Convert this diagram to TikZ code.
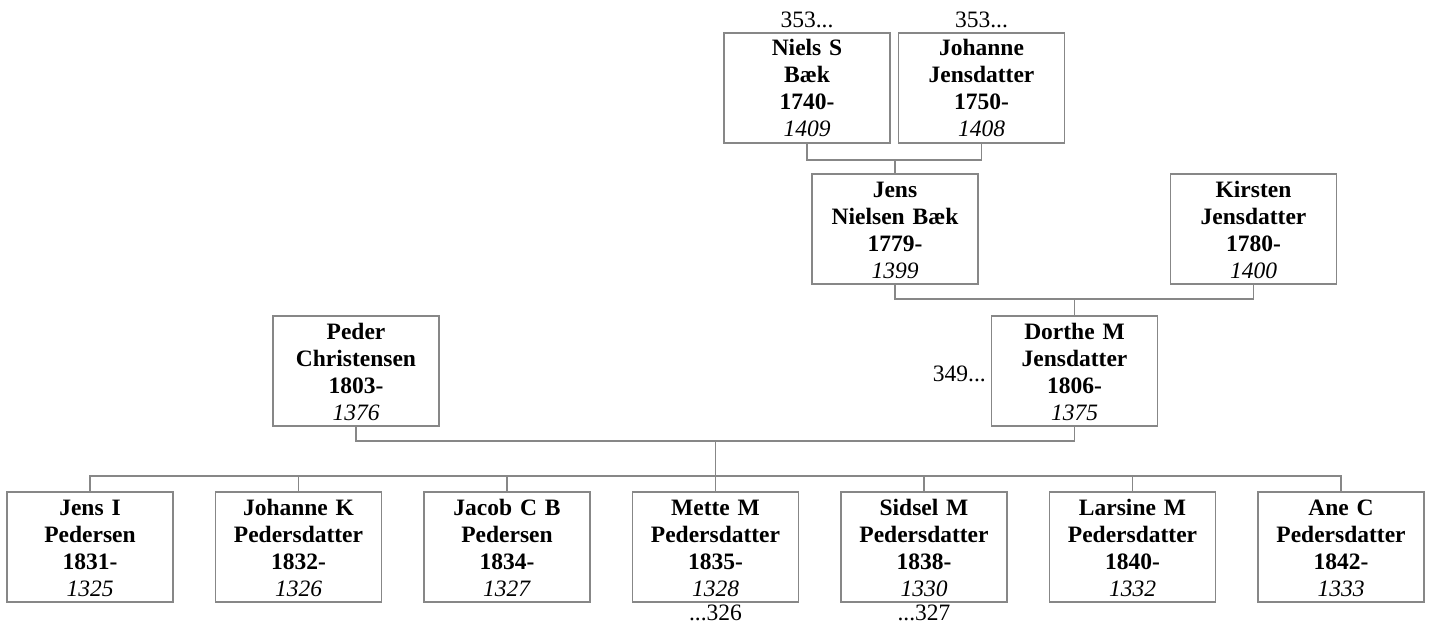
\documentclass[tikz,border=0pt]{standalone}
\usepackage{fontspec}
\setmainfont{Liberation Serif}
\usetikzlibrary{positioning, calc}
\definecolor{linegray}{RGB}{135,135,135}
\newcommand{\pers}[4]{\rule{0pt}{23pt}\textbf{#1}\\\textbf{#2}\\\textbf{#3}\\\textit{#4}\rule[-6pt]{0pt}{6pt}}

\begin{document}
\begin{tikzpicture}[x=1pt, y=-1pt,
    person/.style={draw=linegray, line width=1.1pt, rectangle, inner sep=0pt,
        text width=166pt, minimum height=110pt, align=center,
        font=\fontsize{23.5}{27}\selectfont},
    link/.style={draw=linegray, line width=1.1pt},
    ref/.style={font=\fontsize{23.5}{26}\selectfont, inner sep=0pt}]
    \useasboundingbox (0,0) rectangle (1430,626);

    % Grandparents
    \node[person] (niels) at (807,88) {\pers{Niels S}{Bæk}{1740-}{1409}};
    \node[person] (johanne) at (981.5,88) {\pers{Johanne}{Jensdatter}{1750-}{1408}};
    \node[ref] (nielsref) at (807,20) {353...};
    \node[ref] (johanneref) at (981.5,20) {353...};

    % Parents of Dorthe
    \node[person] (jens) at (895,229) {\pers{Jens}{Nielsen Bæk}{1779-}{1399}};
    \node[person] (kirsten) at (1253.5,229) {\pers{Kirsten}{Jensdatter}{1780-}{1400}};

    % Parents
    \node[person] (peder) at (356,371) {\pers{Peder}{Christensen}{1803-}{1376}};
    \node[person] (dorthe) at (1074.5,371) {\pers{Dorthe M}{Jensdatter}{1806-}{1375}};
    \node[ref, anchor=east] (dortheref) at (986,374) {349...};

    % Children
    \foreach \i/\n/\s/\y/\r in {1/Jens I/Pedersen/1831-/1325,
                                2/Johanne K/Pedersdatter/1832-/1326,
                                3/Jacob C B/Pedersen/1834-/1327,
                                4/Mette M/Pedersdatter/1835-/1328,
                                5/Sidsel M/Pedersdatter/1838-/1330,
                                6/Larsine M/Pedersdatter/1840-/1332,
                                7/Ane C/Pedersdatter/1842-/1333} {
        \node[person] (c\i) at ({90+(\i-1)*208.5},547) {\pers{\n}{\s}{\y}{\r}};
    }
    \node[ref] (metteref) at (715.5,613) {...326};
    \node[ref] (sidselref) at (924,613) {...327};

    % Connectors
    \coordinate (topbus) at (895,160);
    \coordinate (midbus) at (1074.5,299);
    \coordinate (parbus) at (715.5,441);
    \coordinate (kidbus) at (715.5,476);
    \draw[link] (niels.south) |- (topbus) -| (johanne.south);
    \draw[link] (topbus) -- (jens.north);
    \draw[link] (jens.south) |- (midbus) -| (kirsten.south);
    \draw[link] (midbus) -- (dorthe.north);
    \draw[link] (peder.south) |- (parbus) -| (dorthe.south);
    \draw[link] (parbus) -- (kidbus);
    \draw[link] (c1.north) |- (kidbus) -| (c7.north);
    \foreach \i in {2,...,6} {
        \draw[link] (c\i.north) -- (c\i.north |- kidbus);
    }
\end{tikzpicture}
\end{document}
